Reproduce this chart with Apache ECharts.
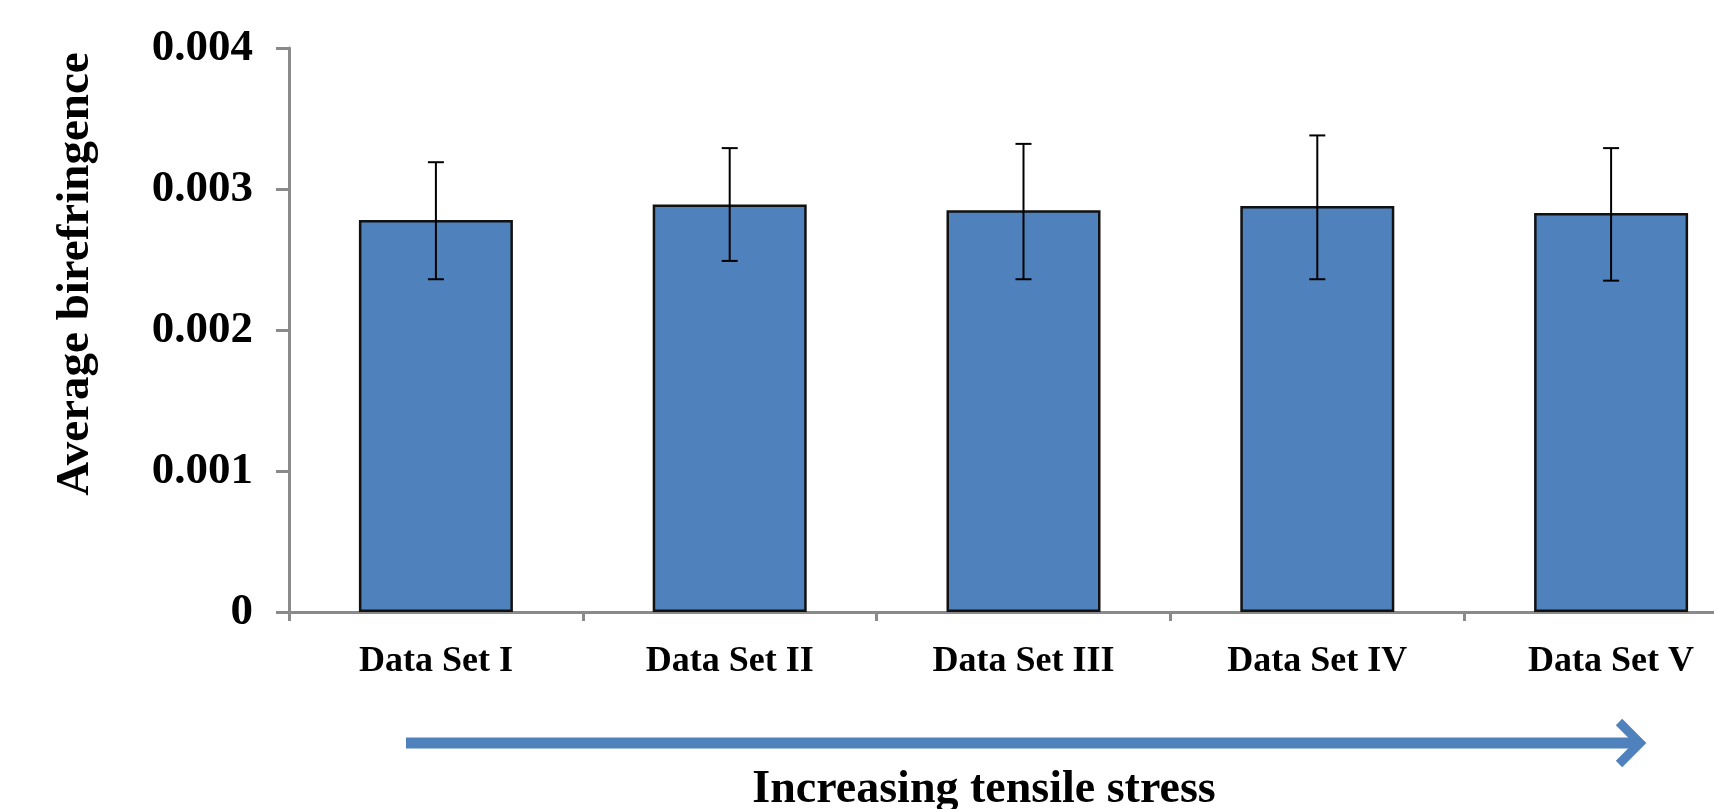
<!DOCTYPE html>
<html>
<head>
<meta charset="utf-8">
<script src="https://cdn.jsdelivr.net/npm/echarts@6/dist/echarts.min.js"></script>
<style>
  html, body { margin: 0; padding: 0; background: #ffffff; overflow: hidden; width: 1714px; height: 809px; }
  #chart { width: 1760px; height: 809px; }
</style>
</head>
<body>
<div id="chart"></div>
<script>
// ---- data ----
var categories = ['Data Set I', 'Data Set II', 'Data Set III', 'Data Set IV', 'Data Set V'];
var meanValues = [0.00278, 0.00289, 0.00285, 0.00288, 0.00283];
var errorLow   = [0.00236, 0.00249, 0.00236, 0.00236, 0.00235];
var errorHigh  = [0.00319, 0.00329, 0.00332, 0.00338, 0.00329];
var yTickLabels = ['0', '0.001', '0.002', '0.003', '0.004'];
var yAxisTitle = 'Average birefringence';
var arrowCaption = 'Increasing tensile stress';

var FONT = "'Liberation Serif', 'Times New Roman', serif";
var AXIS_GRAY = '#8a8a8a';
var BLUE = '#4F81BD';

var errorData = categories.map(function (c, i) { return [i, errorLow[i], errorHigh[i]]; });

var chart = echarts.init(document.getElementById('chart'), null, { renderer: 'canvas', width: 1760, height: 809 });

chart.setOption({
  backgroundColor: '#ffffff',
  animation: false,
  grid: { left: 289, top: 48, width: 1469, height: 564, containLabel: false },
  xAxis: {
    type: 'category',
    data: categories,
    boundaryGap: true,
    axisLine: { show: true, lineStyle: { color: AXIS_GRAY, width: 3 } },
    axisTick: { show: true, length: 9, inside: false, lineStyle: { color: AXIS_GRAY, width: 3 } },
    axisLabel: {
      margin: 32,
      fontFamily: FONT, fontWeight: 'bold', fontSize: 36, color: '#000000'
    },
    splitLine: { show: false }
  },
  yAxis: {
    type: 'value',
    min: 0, max: 0.004, interval: 0.001,
    axisLine: { show: true, lineStyle: { color: AXIS_GRAY, width: 3 } },
    axisTick: { show: true, length: 13, inside: false, lineStyle: { color: AXIS_GRAY, width: 3 } },
    axisLabel: {
      margin: 36,
      fontFamily: FONT, fontWeight: 'bold', fontSize: 45, color: '#000000',
      formatter: function (v) {
        var idx = Math.round(v / 0.001);
        return yTickLabels[idx] !== undefined ? yTickLabels[idx] : '';
      }
    },
    splitLine: { show: false }
  },
  series: [
    {
      type: 'bar',
      data: meanValues,
      barWidth: 154,
      itemStyle: { color: BLUE, borderColor: '#111111', borderWidth: 2.5 },
      z: 2
    },
    {
      type: 'custom',
      data: errorData,
      encode: { x: 0, y: [1, 2] },
      z: 5,
      renderItem: function (params, api) {
        var idx = api.value(0);
        var lo = api.coord([idx, api.value(1)]);
        var hi = api.coord([idx, api.value(2)]);
        var hw = 8;
        var st = { stroke: '#000000', lineWidth: 2 };
        return {
          type: 'group',
          children: [
            { type: 'line', shape: { x1: hi[0], y1: hi[1], x2: lo[0], y2: lo[1] }, style: st },
            { type: 'line', shape: { x1: hi[0] - hw, y1: hi[1], x2: hi[0] + hw, y2: hi[1] }, style: st },
            { type: 'line', shape: { x1: lo[0] - hw, y1: lo[1], x2: lo[0] + hw, y2: lo[1] }, style: st }
          ]
        };
      }
    }
  ],
  graphic: [
    {
      type: 'text',
      x: 76, y: 274,
      rotation: Math.PI / 2,
      style: {
        text: yAxisTitle,
        fontFamily: FONT, fontWeight: 'bold', fontSize: 47, fill: '#000000',
        align: 'center', verticalAlign: 'middle'
      }
    },
    {
      type: 'line',
      shape: { x1: 406, y1: 743, x2: 1636, y2: 743 },
      style: { stroke: BLUE, lineWidth: 11 }
    },
    {
      type: 'polyline',
      shape: { points: [[1619, 722], [1640, 743], [1619, 764]] },
      style: { stroke: BLUE, lineWidth: 9, fill: null, lineJoin: 'miter', lineCap: 'butt' }
    },
    {
      type: 'text',
      x: 984, y: 790,
      style: {
        text: arrowCaption,
        fontFamily: FONT, fontWeight: 'bold', fontSize: 46, fill: '#000000',
        align: 'center', verticalAlign: 'middle'
      }
    }
  ]
});
</script>
</body>
</html>
